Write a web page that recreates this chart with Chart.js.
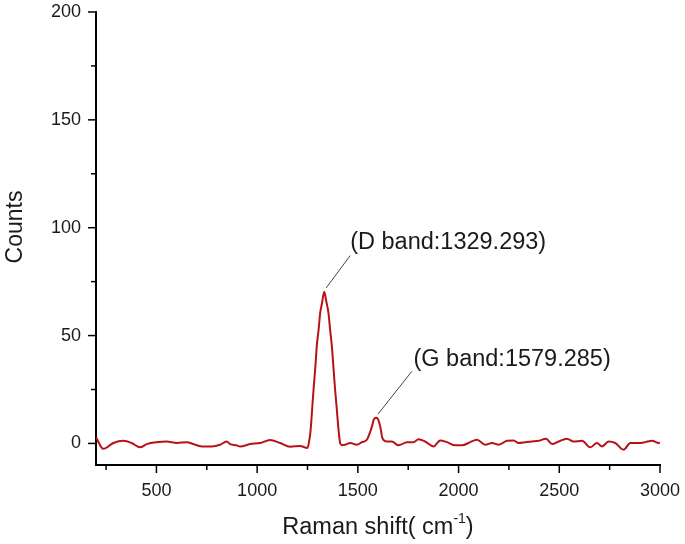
<!DOCTYPE html>
<html>
<head>
<meta charset="utf-8">
<title>Raman spectrum</title>
<script src="https://cdn.jsdelivr.net/npm/chart.js@4.4.1/dist/chart.umd.min.js"></script>
<style>
  html, body { margin: 0; padding: 0; background: #fff; }
  #wrap { width: 685px; height: 544px; }
</style>
</head>
<body>
<div id="wrap"><canvas id="ramanChart"></canvas></div>
<script>
// values
const ramanShift = [
  200, 236, 286, 336, 377, 419, 452, 502, 551, 601, 651, 683, 725, 775, 816, 849, 866, 899,
  915, 965, 1015, 1064, 1114, 1164, 1213, 1250, 1258, 1263, 1267, 1275, 1280, 1290, 1296,
  1305, 1313, 1322, 1333, 1343, 1354, 1362, 1371, 1379, 1387, 1395, 1404, 1412, 1420, 1437,
  1462, 1495, 1520, 1545, 1558, 1570, 1578, 1586, 1594, 1602, 1611, 1622, 1644, 1669, 1702,
  1744, 1776, 1801, 1834, 1876, 1909, 1942, 1984, 2017, 2058, 2091, 2133, 2166, 2199, 2240,
  2273, 2298, 2331, 2365, 2397, 2434, 2464, 2497, 2538, 2571, 2613, 2654, 2687, 2712, 2745,
  2778, 2819, 2853, 2894, 2927, 2961, 2994, 3000
];
const counts = [
  2.8, -2.5, 0.2, 1.2, 0.2, -1.8, -0.3, 0.6, 0.9, 0.2, 0.6, -0.3, -1.4, -1.4, -0.6, 0.9, -0.3, -0.9,
  -1.4, -0.3, 0.2, 1.6, 0.2, -1.5, -1.2, -2.1, 1.0, 4.0, 7.9, 18.5, 24.9, 36.7, 45,
  52.7, 60.5, 65, 70.3, 66, 60.5, 53, 45, 35, 24.9, 16.5, 6.4, 0.2, -0.8, -0.6,
  0.2, -0.6, 0.6, 1.7, 4.5, 7.9, 10.8, 11.8, 11.9, 10.8, 7.9, 2.5, 0.9, 0.9, -0.9,
  0.6, 0.6, 1.9, 0.9, -1.4, 1.4, 0.6, -0.9, -0.9, 0.6, 1.7, -0.6, 0.2, -0.6, 1.2,
  1.4, 0.2, 0.6, 0.9, 1.2, 2.2, -0.3, 0.9, 2.2, 0.9, 1.2, -1.8, 0.2, -1.4, 0.9,
  0.2, -2.9, 0.2, 0.2, 0.6, 1.2, 0.2, 0.3
];
const xTickValues = [250, 500, 750, 1000, 1250, 1500, 1750, 2000, 2250, 2500, 2750, 3000];
const yTickValues = [0, 25, 50, 75, 100, 125, 150, 175, 200];
const bandLabels = ['(D band:1329.293)', '(G band:1579.285)'];

// leader line [from, to] and text anchor, in data units
const bandNotes = [
  { from: [1343, 72.1], to: [1462, 87.1], text: [1462, 93.0] },
  { from: [1600, 13.6], to: [1768, 33.4], text: [1776, 38.8] }
];

const FONT = '"Liberation Sans", Arial, sans-serif';

const decorations = {
  id: 'decorations',
  afterDraw(chart) {
    const { ctx, chartArea, scales: { x, y } } = chart;
    ctx.save();

    // tick marks, major longer than minor
    ctx.strokeStyle = '#000';
    ctx.lineWidth = 1.5;
    xTickValues.forEach(v => {
      const px = x.getPixelForValue(v);
      const len = v % 500 === 0 ? 8 : 5;
      ctx.beginPath();
      ctx.moveTo(px, chartArea.bottom);
      ctx.lineTo(px, chartArea.bottom + len);
      ctx.stroke();
    });
    yTickValues.forEach(v => {
      const py = y.getPixelForValue(v);
      const len = v % 50 === 0 ? 8 : 5;
      ctx.beginPath();
      ctx.moveTo(chartArea.left, py);
      ctx.lineTo(chartArea.left - len, py);
      ctx.stroke();
    });

    // band annotations
    ctx.strokeStyle = '#444';
    ctx.lineWidth = 1;
    ctx.fillStyle = '#1a1a1a';
    ctx.font = '23.5px ' + FONT;
    ctx.textAlign = 'left';
    ctx.textBaseline = 'middle';
    bandNotes.forEach((n, i) => {
      ctx.beginPath();
      ctx.moveTo(x.getPixelForValue(n.from[0]), y.getPixelForValue(n.from[1]));
      ctx.lineTo(x.getPixelForValue(n.to[0]), y.getPixelForValue(n.to[1]));
      ctx.stroke();
      ctx.fillText(bandLabels[i], x.getPixelForValue(n.text[0]), y.getPixelForValue(n.text[1]));
    });

    // y title
    ctx.save();
    ctx.translate(16, 227);
    ctx.rotate(-Math.PI / 2);
    ctx.textAlign = 'center';
    ctx.font = '23px ' + FONT;
    ctx.fillText('Counts', 0, 0);
    ctx.restore();

    // x title with superscript
    const base = chartArea.bottom + 69;
    const main = 'Raman shift( cm', sup = '-1', close = ')';
    ctx.textBaseline = 'alphabetic';
    ctx.font = '23.5px ' + FONT;
    const wMain = ctx.measureText(main).width;
    const wClose = ctx.measureText(close).width;
    ctx.font = '14px ' + FONT;
    const wSup = ctx.measureText(sup).width;
    let cx = (chartArea.left + chartArea.right) / 2 - (wMain + wSup + wClose) / 2;
    ctx.font = '23.5px ' + FONT;
    ctx.fillText(main, cx, base);
    cx += wMain;
    ctx.font = '14px ' + FONT;
    ctx.fillText(sup, cx, base - 11);
    cx += wSup;
    ctx.font = '23.5px ' + FONT;
    ctx.fillText(close, cx, base);

    ctx.restore();
  }
};

new Chart(document.getElementById('ramanChart').getContext('2d'), {
  type: 'line',
  data: {
    datasets: [{
      data: ramanShift.map((v, i) => ({ x: v, y: counts[i] })),
      borderColor: '#b81216',
      borderWidth: 2,
      pointRadius: 0,
      cubicInterpolationMode: 'monotone',
      fill: false
    }]
  },
  options: {
    responsive: true,
    maintainAspectRatio: false,
    animation: false,
    layout: { padding: { top: 12, right: 25, left: 0, bottom: 0 } },
    plugins: { legend: { display: false }, tooltip: { enabled: false } },
    scales: {
      x: {
        type: 'linear',
        min: 200,
        max: 3000,
        afterBuildTicks: s => { s.ticks = xTickValues.map(v => ({ value: v })); },
        afterFit: s => { s.height = 79; s.paddingLeft = 0; s.paddingRight = 0; },
        grid: { drawOnChartArea: false, drawTicks: false },
        border: { color: '#000', width: 2 },
        ticks: {
          autoSkip: false,
          maxRotation: 0,
          padding: 15,
          color: '#1a1a1a',
          font: { family: FONT, size: 18 },
          callback: v => (v % 500 === 0 ? v : '')
        }
      },
      y: {
        min: -10,
        max: 200,
        afterBuildTicks: s => { s.ticks = yTickValues.map(v => ({ value: v })); },
        afterFit: s => { s.width = 96; s.paddingTop = 0; s.paddingBottom = 0; },
        grid: { drawOnChartArea: false, drawTicks: false },
        border: { color: '#000', width: 2 },
        ticks: {
          autoSkip: false,
          padding: 15,
          color: '#1a1a1a',
          font: { family: FONT, size: 18 },
          callback: v => (v % 50 === 0 ? v : '')
        }
      }
    }
  },
  plugins: [decorations]
});
</script>
</body>
</html>
